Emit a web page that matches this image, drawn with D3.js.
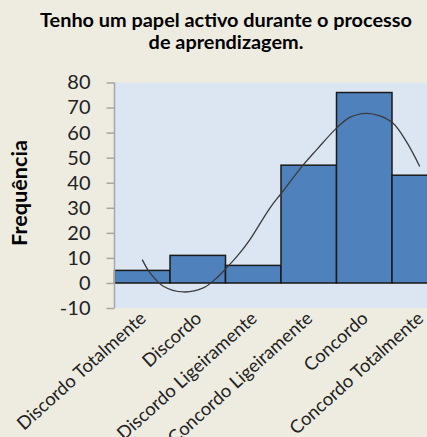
<!DOCTYPE html>
<html>
<head>
<meta charset="utf-8">
<script src="https://cdn.jsdelivr.net/npm/d3@7"></script>
<style>
  html, body { margin: 0; padding: 0; background: #EEECE1; }
  svg { display: block; overflow: hidden; }
</style>
</head>
<body>
<svg id="chart" width="427" height="437"></svg>
<script>
// Answers to the statement, in scale order
const categories = [
  "Discordo Totalmente",
  "Discordo",
  "Discordo Ligeiramente",
  "Concordo Ligeiramente",
  "Concordo",
  "Concordo Totalmente"
];
// Number of answers per category
const frequencies = [5, 11, 7, 47, 76, 43];
// Trend curve: position on the category scale (1 = first category) and its value
const trendX = [1.0, 1.14, 1.38, 1.74, 2.1, 2.34, 2.52, 2.76, 2.94, 3.3, 3.51, 3.9, 4.14, 4.5, 4.74, 5.04, 5.28, 5.52, 5.76, 6.0];
const trendY = [9.3, 4.0, -1.3, -3.6, -2.0, 2.0, 6.0, 12.0, 17.3, 29.9, 35.9, 47.1, 53.1, 61.8, 66.1, 67.7, 66.7, 63.7, 56.4, 46.5];
// Value axis ticks
const yTicks = [-10, 0, 10, 20, 30, 40, 50, 60, 70, 80];

const titleLines = ["Tenho um papel activo durante o processo", "de aprendizagem."];
const yTitle = "Frequência";

const FONT = "Lato, 'Open Sans', sans-serif";
const svg = d3.select("#chart");
const W = 427, H = 437;

const plot = { left: 114.5, top: 82.5, bottom: 308, bandW: 55.5 };
plot.right = plot.left + plot.bandW * categories.length;

const x = d3.scaleBand()
  .domain(categories)
  .range([plot.left, plot.right])
  .padding(0);

const y = d3.scaleLinear()
  .domain([-10, 80])
  .range([plot.bottom, plot.top]);

// category position (1-based, continuous) -> pixel
const xc = d3.scaleLinear()
  .domain([0.5, categories.length + 0.5])
  .range([plot.left, plot.right]);

// scale a text's font size so that it spans the given width
function fitWidth(sel, width) {
  const node = sel.node();
  const fs = parseFloat(sel.attr("font-size"));
  const w = node.getComputedTextLength();
  if (w > 0) sel.attr("font-size", (fs * width / w).toFixed(2));
  return sel;
}

// background
svg.append("rect").attr("width", W).attr("height", H).attr("fill", "#EEECE1");

// plot area
svg.append("rect")
  .attr("x", plot.left).attr("y", plot.top)
  .attr("width", plot.right - plot.left)
  .attr("height", plot.bottom - plot.top)
  .attr("fill", "#DCE6F2");

// title
const title = svg.append("text")
  .attr("text-anchor", "middle")
  .attr("font-family", FONT)
  .attr("font-weight", "bold")
  .attr("font-size", 20)
  .attr("fill", "#000");
title.selectAll("tspan")
  .data(titleLines)
  .join("tspan")
  .attr("x", 226)
  .attr("y", (d, i) => 27 + i * 21.5)
  .text(d => d);
{
  const first = title.select("tspan").node().getComputedTextLength();
  if (first > 0) title.attr("font-size", (20 * 372 / first).toFixed(2));
}

// zero line (category axis crosses at 0)
svg.append("line")
  .attr("x1", plot.left).attr("x2", plot.right)
  .attr("y1", y(0)).attr("y2", y(0))
  .attr("stroke", "#A6A6A6").attr("stroke-width", 1.5);

// bars
svg.append("g")
  .selectAll("rect")
  .data(categories.map((c, i) => ({ c, v: frequencies[i] })))
  .join("rect")
  .attr("x", d => x(d.c))
  .attr("y", d => y(d.v))
  .attr("width", x.bandwidth())
  .attr("height", d => y(0) - y(d.v))
  .attr("fill", "#4F81BD")
  .attr("stroke", "#1A1A1A")
  .attr("stroke-width", 1.5);

// trend curve
const line = d3.line()
  .x(d => xc(d[0]))
  .y(d => y(d[1]))
  .curve(d3.curveCatmullRom.alpha(0.5));
svg.append("path")
  .datum(trendX.map((t, i) => [t, trendY[i]]))
  .attr("d", line)
  .attr("fill", "none")
  .attr("stroke", "#3A3A3A")
  .attr("stroke-width", 1.3);

// value axis
const yAxis = svg.append("g")
  .attr("transform", `translate(${plot.left},0)`)
  .call(d3.axisLeft(y).tickValues(yTicks).tickSize(8).tickPadding(16).tickFormat(d => String(d)));
yAxis.select(".domain").attr("stroke", "#A6A6A6").attr("stroke-width", 1.5)
  .attr("d", `M0,${plot.top}V${plot.bottom}`);
yAxis.selectAll(".tick line").attr("stroke", "#A6A6A6").attr("stroke-width", 1.5);
yAxis.selectAll(".tick text")
  .attr("font-family", FONT)
  .attr("font-size", 20)
  .attr("fill", "#222");

// value axis title
fitWidth(svg.append("text")
  .attr("transform", `translate(27,193) rotate(-90)`)
  .attr("text-anchor", "middle")
  .attr("font-family", FONT)
  .attr("font-weight", "bold")
  .attr("font-size", 20)
  .attr("fill", "#000")
  .text(yTitle), 106);

// category labels, rotated
const catLabels = svg.append("g")
  .selectAll("text")
  .data(categories)
  .join("text")
  .attr("transform", d => `translate(${x(d) + x.bandwidth() / 2 + 5},${plot.bottom + 12}) rotate(-42)`)
  .attr("text-anchor", "end")
  .attr("font-family", FONT)
  .attr("font-size", 17)
  .attr("fill", "#222")
  .text(d => d);
{
  const w0 = catLabels.node().getComputedTextLength();
  if (w0 > 0) catLabels.attr("font-size", (17 * 166 / w0).toFixed(2));
}
</script>
</body>
</html>
